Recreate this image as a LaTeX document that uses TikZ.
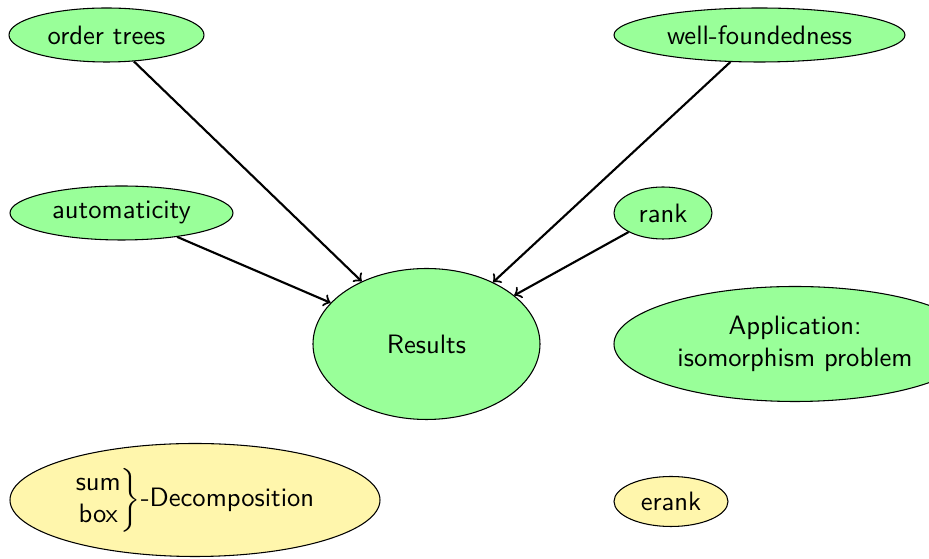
\documentclass[tikz,border=0pt]{standalone}
\usetikzlibrary{shapes.geometric}
\definecolor{nodegreen}{RGB}{153,255,153}
\definecolor{nodeyellow}{RGB}{255,246,172}
\def\u{0.376}
\tikzset{
  topic/.style n args={2}{ellipse, draw=black, thin, inner sep=0pt,
    minimum width=#1*\u pt, minimum height=#2*\u pt, align=center,
    font=\sffamily},
  greentopic/.style 2 args={topic={#1}{#2}, fill=nodegreen},
  yellowtopic/.style 2 args={topic={#1}{#2}, fill=nodeyellow},
  link/.style={->, thick}
}
\begin{document}
\begin{tikzpicture}[x=\u pt, y=-\u pt]
  \useasboundingbox (0,0) rectangle (929,559);
  \clip (0,0) rectangle (929,559);

  \node[greentopic={195}{54}] (ot) at (106.5,35) {order trees};
  \node[greentopic={291}{54}] (wf) at (759.5,35) {well-foundedness};
  \node[greentopic={223}{54}] (au) at (121.5,213) {automaticity};
  \node[greentopic={98}{52}]  (rk) at (663,213) {rank};
  \node[greentopic={227}{151}] (res) at (426.5,344) {Results};
  \node[greentopic={362}{115}] (app) at (795,344) {Application:\\isomorphism problem};
  \node[yellowtopic={370}{113}] (dec) at (195,500)
    {$\begin{array}{@{}c@{}}\mbox{sum}\\\mbox{box}\end{array}\biggr\}$-Decomposition};
  \node[yellowtopic={114}{50}] (er) at (671,501.5) {erank};

  \draw[link] (ot) -- (res);
  \draw[link] (au) -- (res);
  \draw[link] (wf) -- (res);
  \draw[link] (rk) -- (res);
\end{tikzpicture}
\end{document}
